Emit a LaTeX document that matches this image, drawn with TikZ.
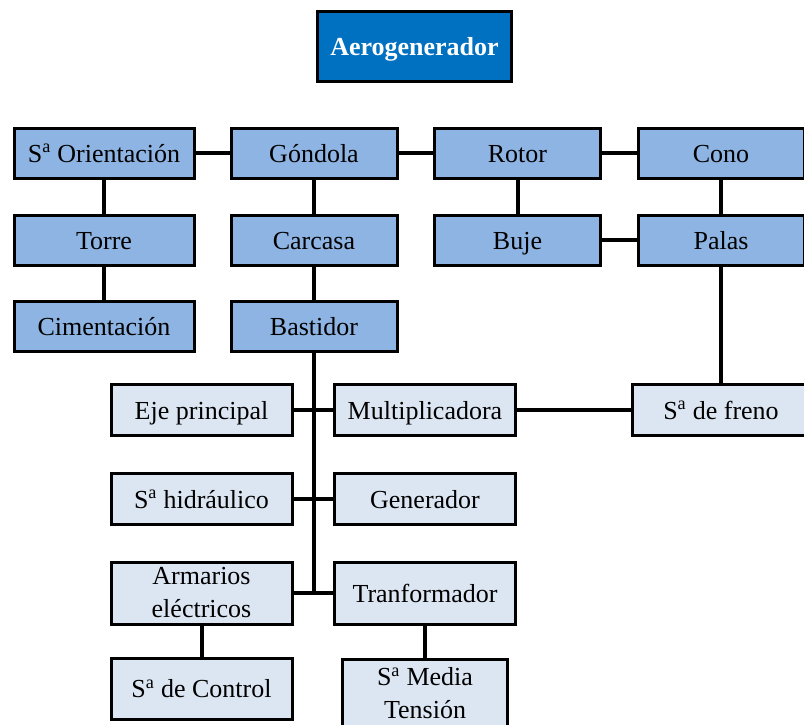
\documentclass[tikz,border=0pt]{standalone}
\usepackage{fontspec}
\setmainfont{Liberation Serif}
\definecolor{topblue}{HTML}{0070C0}
\definecolor{midblue}{HTML}{8DB4E2}
\definecolor{paleblue}{HTML}{DCE6F2}
\newcommand{\subsys}{S\textsuperscript{a}}

\begin{document}
\begin{tikzpicture}[x=1pt, y=-1pt]
            \tikzset{part/.style={draw=black, line width=3pt, inner sep=0pt, align=center, font=\fontsize{26}{33}\selectfont}}
            \tikzset{one line/.style={text height=22pt, text depth=4pt}}
            \tikzset{main part/.style={part, one line, fill=midblue, minimum width=166pt, minimum height=50pt}}
            \tikzset{sub part/.style={part, one line, fill=paleblue, minimum width=181pt, minimum height=51pt}}
            \tikzset{two part/.style={part, fill=paleblue, minimum width=181pt, minimum height=62pt}}
            \tikzset{top part/.style={part, one line, fill=topblue, text=white, font=\fontsize{26}{33}\selectfont\bfseries, minimum width=194pt, minimum height=70pt}}
            \tikzset{link/.style={line width=4pt, black}}
            \useasboundingbox (0, 0) rectangle (804, 725);

            \node[top part] (aero) at (414.5, 46.5) {Aerogenerador};

            \node[main part, minimum width=180pt] (orient) at (104, 153) {\subsys{} Orientación};
            \node[main part] (gondola) at (314, 153) {Góndola};
            \node[main part] (rotor) at (517.5, 153) {Rotor};
            \node[main part] (cono) at (721, 153) {Cono};
            \node[main part, minimum width=180pt] (torre) at (104, 240) {Torre};
            \node[main part] (carcasa) at (314, 240) {Carcasa};
            \node[main part] (buje) at (517.5, 240) {Buje};
            \node[main part] (palas) at (721, 240) {Palas};
            \node[main part, minimum width=180pt] (ciment) at (104, 326) {Cimentación};
            \node[main part] (bastidor) at (314, 326) {Bastidor};

            \node[sub part] (eje) at (201.5, 410) {Eje principal};
            \node[sub part] (multi) at (425, 410) {Multiplicadora};
            \node[sub part, minimum width=178pt] (freno) at (721, 410) {\subsys{} de freno};
            \node[sub part] (hidra) at (201.5, 499) {\subsys{} hidráulico};
            \node[sub part] (gener) at (425, 499) {Generador};
            \node[two part] (armario) at (201.5, 593) {Armarios\\eléctricos};
            \node[sub part, minimum height=62pt] (trafo) at (425, 593) {Tranformador};
            \node[sub part, minimum height=61pt] (control) at (201.5, 688.5) {\subsys{} de Control};
            \node[two part, minimum width=165pt, minimum height=68pt] (media) at (425, 693) {\subsys{} Media\\Tensión};

            \draw[link] (orient) -- (gondola);
            \draw[link] (gondola) -- (rotor);
            \draw[link] (rotor) -- (cono);
            \draw[link] (orient) -- (torre);
            \draw[link] (torre) -- (ciment);
            \draw[link] (gondola) -- (carcasa);
            \draw[link] (carcasa) -- (bastidor);
            \draw[link] (rotor) -- (buje);
            \draw[link] (cono) -- (palas);
            \draw[link] (buje) -- (palas);
            \draw[link] (palas) -- (freno);
            \draw[link] (multi) -- (freno);
            \coordinate (trunk) at (bastidor.south |- armario.east);
            \draw[link] (bastidor.south) -- (trunk);
            \draw[link] (eje) -- (multi);
            \draw[link] (hidra) -- (gener);
            \draw[link] (armario) -- (trafo);
            \draw[link] (armario) -- (control);
            \draw[link] (trafo) -- (media);
        \end{tikzpicture}
\end{document}
